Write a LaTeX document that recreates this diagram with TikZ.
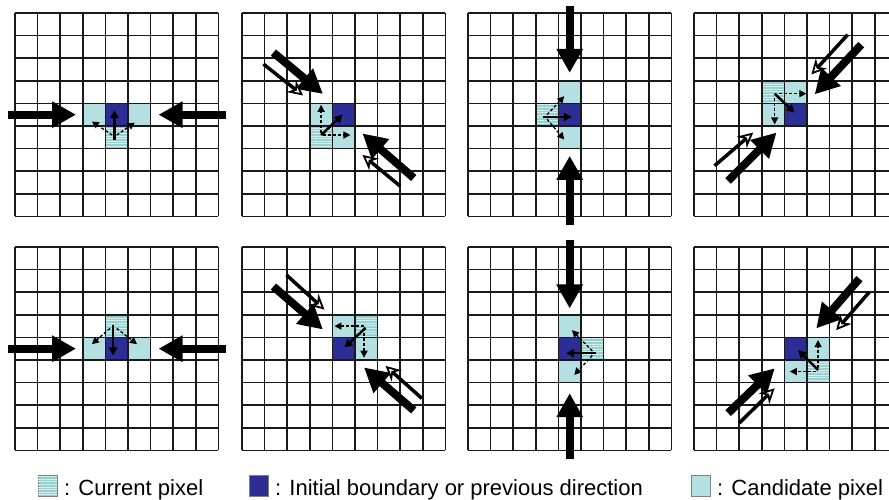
\documentclass[tikz,border=0pt]{standalone}
\usepackage{fontspec}
\setmainfont{Liberation Sans}
\usetikzlibrary{arrows.meta,patterns.meta}
\definecolor{dblue}{HTML}{2D2D96}
\definecolor{cand}{HTML}{B5E0E2}
\definecolor{curbase}{HTML}{98CFCF}
\definecolor{curline}{HTML}{D8F0F0}
\tikzset{
  gridline/.style={line width=1.5pt, black!90},
  bigarrow/.style={line width=8pt, -{Triangle[length=24pt,width=25pt]}},
  thinarrow/.style={line width=3.5pt, -{Stealth[open,length=15pt,width=15pt,line width=1.8pt,fill=white]}},
  solidarrow/.style={line width=2.5pt, -{Triangle[length=8pt,width=8pt]}},
  dasharrow/.style={line width=1.3pt, dash pattern=on 3pt off 2pt, -{Triangle[length=7pt,width=7pt]}},
  candcell/.style={fill=cand},
  prevcell/.style={fill=dblue},
  curcell/.style={fill=curbase, postaction={pattern={Lines[angle=0,distance=2.6pt,line width=0.9pt]}, pattern color=curline}},
  legtext/.style={anchor=base west, inner sep=0pt, font=\fontsize{22}{24}\selectfont},
}
\newcommand\gridpanel[3]{%
  \begin{scope}[shift={(#1,#2)}, x=22.6pt, y=-22.6pt]
    #3
  \end{scope}}
\newcommand\cellat[3]{\path[#1] (#2,#3) rectangle ++(1,1);}
\newcommand\gridlines{\foreach \i in {0,...,9} {\draw[gridline] (\i,0) -- (\i,9); \draw[gridline] (0,\i) -- (9,\i);}}
\begin{document}
\begin{tikzpicture}[x=1pt, y=-1pt]
\useasboundingbox (0,0) rectangle (889,500);
\fill[white] (0,0) rectangle (889,500);
\clip (0,0) rectangle (889,500);

% Panel 1
\gridpanel{15}{13}{
  \cellat{candcell}{3}{4}\cellat{prevcell}{4}{4}\cellat{candcell}{5}{4}\cellat{curcell}{4}{5}
  \gridlines
  \draw[bigarrow] (-0.3,4.5) -- (2.7,4.5);
  \draw[bigarrow] (9.35,4.5) -- (6.35,4.5);
  \draw[solidarrow] (4.4,5.6) -- (4.4,4.3);
  \draw[dasharrow] (4.3,5.4) -- (3.4,4.8);
  \draw[dasharrow] (4.5,5.4) -- (5.3,4.85);
}
% Panel 2
\gridpanel{242}{13}{
  \cellat{candcell}{3}{4}\cellat{prevcell}{4}{4}\cellat{curcell}{3}{5}\cellat{candcell}{4}{5}
  \gridlines
  \draw[solidarrow] (3.5,5.4) -- (4.45,4.5);
  \draw[dasharrow] (3.5,5.3) -- (3.5,4.06);
  \draw[dasharrow] (3.6,5.4) -- (4.8,5.4);
  \draw[bigarrow] (1.39,1.75) -- (3.58,3.58);
  \draw[thinarrow] (0.95,2.26) -- (2.7,3.65);
  \draw[bigarrow] (7.6,7.3) -- (5.33,5.33);
  \draw[thinarrow] (7.0,7.66) -- (5.33,6.28);
}
% Panel 3
\gridpanel{468}{13}{
  \cellat{candcell}{4}{3}\cellat{prevcell}{4}{4}\cellat{candcell}{4}{5}\cellat{curcell}{3}{4}
  \gridlines
  \draw[solidarrow] (3.3,4.6) -- (4.6,4.6);
  \draw[dasharrow] (3.5,4.5) -- (4.26,3.68);
  \draw[dasharrow] (3.5,4.7) -- (4.26,5.6);
  \draw[bigarrow] (4.5,-0.3) -- (4.5,2.65);
  \draw[bigarrow] (4.5,9.4) -- (4.5,6.32);
}
% Panel 4
\gridpanel{694}{13}{
  \cellat{curcell}{3}{3}\cellat{candcell}{4}{3}\cellat{candcell}{3}{4}\cellat{prevcell}{4}{4}
  \gridlines
  \draw[solidarrow] (3.57,3.57) -- (4.45,4.41);
  \draw[dasharrow] (3.75,3.57) -- (4.97,3.57);
  \draw[dasharrow] (3.57,3.75) -- (3.57,4.93);
  \draw[bigarrow] (7.4,1.4) -- (5.34,3.6);
  \draw[thinarrow] (6.8,0.96) -- (5.19,2.72);
  \draw[bigarrow] (1.51,7.43) -- (3.65,5.29);
  \draw[thinarrow] (0.91,6.76) -- (2.62,5.29);
}
% Panel 5
\gridpanel{15}{247}{
  \cellat{curcell}{4}{3}\cellat{candcell}{3}{4}\cellat{prevcell}{4}{4}\cellat{candcell}{5}{4}
  \gridlines
  \draw[bigarrow] (-0.3,4.5) -- (2.7,4.5);
  \draw[bigarrow] (9.35,4.5) -- (6.35,4.5);
  \draw[solidarrow] (4.34,3.45) -- (4.34,4.8);
  \draw[dasharrow] (4.2,3.6) -- (3.4,4.3);
  \draw[dasharrow] (4.5,3.6) -- (5.4,4.3);
}
% Panel 6
\gridpanel{242}{247}{
  \cellat{candcell}{4}{3}\cellat{curcell}{5}{3}\cellat{prevcell}{4}{4}\cellat{candcell}{5}{4}
  \gridlines
  \draw[solidarrow] (5.47,3.58) -- (4.53,4.45);
  \draw[dasharrow] (5.4,3.5) -- (4.09,3.5);
  \draw[dasharrow] (5.4,3.6) -- (5.4,4.9);
  \draw[bigarrow] (1.39,1.75) -- (3.58,3.65);
  \draw[thinarrow] (1.97,1.24) -- (3.65,2.77);
  \draw[bigarrow] (7.6,7.23) -- (5.4,5.33);
  \draw[thinarrow] (7.96,6.7) -- (6.35,5.26);
}
% Panel 7
\gridpanel{468}{247}{
  \cellat{candcell}{4}{3}\cellat{prevcell}{4}{4}\cellat{candcell}{4}{5}\cellat{curcell}{5}{4}
  \gridlines
  \draw[solidarrow] (5.66,4.7) -- (4.34,4.7);
  \draw[dasharrow] (5.5,4.6) -- (4.6,3.68);
  \draw[dasharrow] (5.5,4.8) -- (4.7,5.66);
  \draw[bigarrow] (4.5,-0.3) -- (4.5,2.72);
  \draw[bigarrow] (4.5,9.4) -- (4.5,6.47);
}
% Panel 8
\gridpanel{694}{247}{
  \cellat{prevcell}{4}{4}\cellat{candcell}{5}{4}\cellat{candcell}{4}{5}\cellat{curcell}{5}{5}
  \gridlines
  \draw[solidarrow] (5.49,5.44) -- (4.6,4.56);
  \draw[dasharrow] (5.49,5.35) -- (5.49,4.12);
  \draw[dasharrow] (5.4,5.51) -- (4.24,5.51);
  \draw[bigarrow] (7.32,1.40) -- (5.41,3.6);
  \draw[thinarrow] (7.76,1.99) -- (6.29,3.68);
  \draw[bigarrow] (1.51,7.35) -- (3.57,5.37);
  \draw[thinarrow] (2.0,7.79) -- (3.57,6.25);
}

% Legend
\path[curcell, draw=black!50, line width=0.6pt] (38,475) rectangle (57,496);
\node[legtext] (l1) at (64,495) {: Current pixel};
\path[prevcell, draw=black!50, line width=0.6pt] (249,475) rectangle (268,496);
\node[legtext] (l2) at (275,495) {: Initial boundary or previous direction};
\path[candcell, draw=black!50, line width=0.6pt] (691,475) rectangle (710,496);
\node[legtext] (l3) at (717,495) {: Candidate pixel};
\end{tikzpicture}
\end{document}
